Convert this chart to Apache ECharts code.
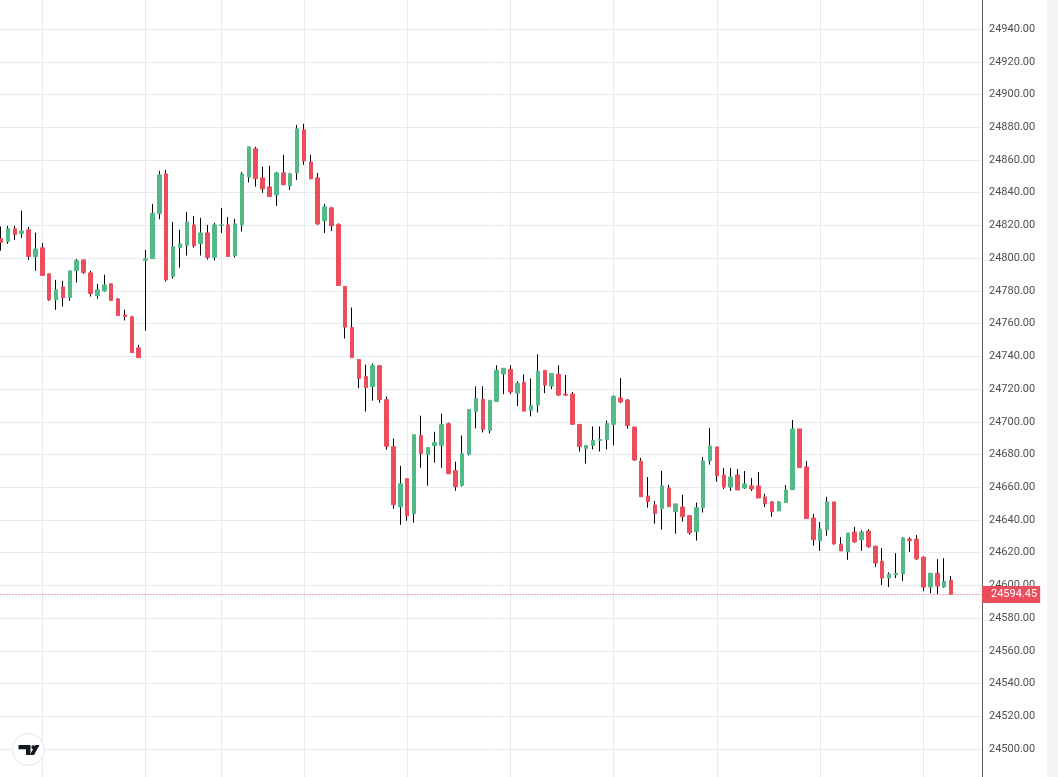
<!DOCTYPE html>
<html><head><meta charset="utf-8">
<script src="https://cdn.jsdelivr.net/npm/echarts@6/dist/echarts.min.js"></script>
<style>html,body{margin:0;padding:0;background:#fff;overflow:hidden}#c{width:1058px;height:777px}</style>
</head><body><div id="c"></div><script>
const opens = [24811.8,24810.1,24817.9,24815.0,24817.3,24801.0,24806.3,24790.4,24774.5,24782.4,
24775.9,24792.4,24798.9,24791.0,24777.1,24780.0,24784.3,24775.1,24765.3,24764.1,
24745.1,24798.7,24799.7,24827.2,24851.5,24788.7,24806.5,24807.7,24820.3,24808.9,
24815.4,24800.4,24819.9,24820.3,24801.6,24820.3,24849.6,24866.8,24849.0,24843.5,
24838.6,24852.1,24844.1,24852.1,24878.4,24858.8,24849.0,24822.8,24830.7,24820.6,
24782.7,24757.6,24738.0,24727.6,24721.5,24734.3,24713.5,24684.8,24648.0,24665.2,
24643.8,24691.5,24679.9,24685.4,24685.4,24698.8,24670.1,24661.0,24680.0,24706.3,
24713.7,24694.7,24712.4,24729.2,24732.0,24717.5,24724.1,24706.9,24710.2,24731.4,
24721.8,24729.0,24716.9,24716.9,24698.4,24683.7,24685.5,24688.6,24689.2,24698.4,
24714.5,24713.3,24696.8,24676.0,24654.6,24649.1,24646.9,24659.5,24645.1,24647.9,
24642.6,24632.9,24647.5,24676.2,24684.6,24667.5,24660.1,24667.5,24659.5,24660.8,
24660.8,24654.0,24651.0,24645.5,24650.6,24658.5,24695.6,24672.4,24641.2,24627.3,
24634.0,24651.0,24625.2,24620.5,24632.6,24627.9,24633.2,24624.0,24614.8,24604.5,
24606.4,24607.0,24628.3,24628.3,24617.2,24599.0,24607.4,24599.0,24603.1];
const closes = [24809.5,24817.9,24814.4,24816.6,24801.0,24805.6,24789.4,24774.5,24780.6,24775.9,
24792.2,24798.5,24791.2,24778.4,24780.6,24783.6,24774.1,24764.9,24764.3,24742.3,
24739.2,24799.5,24827.4,24850.9,24786.7,24806.9,24808.7,24822.1,24807.7,24815.4,
24800.4,24820.3,24820.3,24801.0,24820.9,24851.5,24868.0,24848.6,24842.3,24837.6,
24852.1,24844.8,24851.5,24879.0,24859.4,24848.4,24820.9,24831.3,24819.7,24783.3,
24757.8,24739.2,24726.4,24720.9,24734.3,24713.5,24685.0,24649.3,24662.1,24642.5,
24692.1,24680.5,24684.2,24687.2,24698.2,24668.2,24660.3,24680.6,24707.5,24714.3,
24695.3,24713.1,24731.4,24732.7,24718.2,24723.5,24706.5,24710.0,24730.8,24722.4,
24729.6,24716.3,24716.3,24698.4,24684.9,24685.5,24688.6,24689.2,24699.0,24715.5,
24712.1,24697.6,24676.6,24654.2,24651.2,24643.9,24660.8,24648.1,24649.8,24642.0,
24632.2,24647.5,24676.0,24685.2,24666.9,24660.1,24666.2,24658.3,24662.0,24658.9,
24653.4,24649.8,24645.1,24651.0,24658.3,24695.6,24672.0,24640.8,24628.0,24634.4,
24651.0,24625.4,24621.1,24632.0,24626.6,24632.6,24623.6,24613.7,24604.5,24606.8,
24607.4,24628.9,24627.3,24616.2,24599.0,24607.4,24599.6,24602.5,24594.45];
const lows = [24804.6,24808.7,24811.1,24812.4,24798.9,24792.2,24789.4,24773.9,24768.4,24770.4,
24773.9,24785.1,24790.4,24776.5,24775.1,24779.6,24774.1,24764.9,24761.9,24742.3,
24739.2,24755.7,24799.7,24823.8,24785.7,24787.5,24794.2,24801.6,24806.5,24801.6,
24799.1,24798.5,24815.4,24801.0,24800.4,24816.2,24846.2,24843.7,24839.9,24837.6,
24831.9,24844.8,24841.7,24847.8,24857.0,24848.4,24820.3,24815.4,24816.6,24783.3,
24750.9,24739.2,24720.5,24706.2,24712.9,24711.7,24682.9,24646.8,24637.0,24639.5,
24638.3,24671.9,24660.9,24675.0,24671.9,24668.2,24657.8,24660.4,24679.4,24695.9,
24693.5,24692.9,24712.4,24716.9,24716.9,24709.6,24706.5,24703.3,24705.7,24717.5,
24720.0,24715.7,24715.7,24698.4,24681.8,24674.5,24683.1,24681.8,24683.1,24685.5,
24711.4,24695.8,24676.2,24654.2,24647.5,24637.7,24634.1,24648.1,24631.6,24639.0,
24631.0,24627.4,24644.5,24673.8,24663.4,24658.9,24657.7,24658.3,24658.9,24657.7,
24653.4,24647.9,24642.0,24645.5,24650.6,24658.5,24672.0,24640.8,24624.3,24621.1,
24630.3,24624.8,24621.1,24615.6,24626.0,24621.1,24623.0,24611.3,24600.2,24599.0,
24604.5,24602.7,24620.5,24615.6,24596.5,24595.3,24594.7,24598.4,24594.45];
const highs = [24819.3,24819.7,24819.7,24829.1,24819.1,24815.6,24809.3,24790.4,24786.7,24786.1,
24792.2,24799.5,24798.9,24792.2,24784.3,24789.8,24784.7,24775.5,24768.4,24764.7,
24747.0,24805.0,24833.1,24853.3,24853.9,24822.1,24817.3,24828.3,24825.8,24824.6,
24820.3,24821.5,24830.7,24825.2,24824.0,24852.7,24868.0,24868.0,24855.8,24856.4,
24852.7,24863.1,24852.1,24881.4,24882.0,24863.1,24852.1,24833.1,24831.3,24821.2,
24782.7,24769.8,24738.0,24734.9,24735.6,24734.3,24715.4,24689.7,24673.1,24665.2,
24692.1,24703.7,24684.2,24693.9,24704.9,24699.5,24675.6,24691.6,24707.5,24721.6,
24721.6,24713.1,24734.5,24732.7,24734.5,24724.7,24729.0,24726.5,24741.2,24731.4,
24729.6,24734.5,24728.6,24718.2,24698.4,24685.5,24697.1,24697.1,24700.8,24716.1,
24726.7,24713.9,24696.8,24677.9,24666.2,24651.6,24669.9,24661.4,24649.8,24655.3,
24643.0,24650.6,24678.5,24696.2,24684.6,24671.7,24671.7,24671.1,24669.9,24665.6,
24669.3,24655.9,24651.6,24651.6,24661.4,24701.1,24695.6,24676.0,24643.6,24638.7,
24654.1,24651.0,24629.5,24632.0,24635.7,24633.8,24634.4,24624.0,24622.8,24608.0,
24619.7,24629.5,24629.5,24630.7,24617.8,24607.4,24616.0,24616.6,24605.7];
const categories = opens.map((_, i) => String(i + 1)).concat(['', '', '', '']);
const timeGridIdx = [6, 21, 32, 44, 59, 74, 89, 104, 119, 134];
const yMin = 24480, yMax = 24960, yStep = 20;
const lastPrice = closes[closes.length - 1];

const UP = '#53b987', DOWN = '#eb4d5c', GRID = '#e3ebf3';
const FONT = 'Roboto, "Liberation Sans", sans-serif';

const wickData = opens.map((o, i) => [o, closes[i], lows[i], highs[i]]);
const bodyData = opens.map((o, i) => [o, closes[i], Math.min(o, closes[i]), Math.max(o, closes[i])]);

const chart = echarts.init(document.getElementById('c'), null, {renderer: 'canvas'});
chart.setOption({
  animation: false,
  backgroundColor: '#ffffff',
  grid: {left: -2.445, top: -3.7, width: 984.445, height: 785.45, containLabel: false, outerBoundsMode: 'none'},
  xAxis: {
    type: 'category', data: categories, boundaryGap: true,
    axisLine: {show: false}, axisTick: {show: false}, axisLabel: {show: false}, splitLine: {show: false}
  },
  yAxis: {
    type: 'value', position: 'right', min: yMin, max: yMax, interval: yStep, scale: true,
    axisLine: {show: true, lineStyle: {color: '#5d5d5d', width: 1}},
    axisTick: {show: false},
    splitLine: {show: true, lineStyle: {color: GRID, width: 1}},
    axisLabel: {
      show: true, color: '#4f4f4f', fontSize: 11, fontFamily: FONT, margin: 7,
      showMinLabel: false, showMaxLabel: false,
      formatter: v => v.toFixed(2)
    }
  },
  series: [
    {
      type: 'candlestick', name: 'wick', data: wickData, barWidth: 1, silent: true, z: 2,
      itemStyle: {color: '#000', color0: '#000', borderColor: '#000', borderColor0: '#000', borderWidth: 1},
      markLine: {
        silent: true, symbol: ['none', 'none'], z: 1, animation: false,
        label: {show: false},
        lineStyle: {color: GRID, type: 'solid', width: 1},
        data: timeGridIdx.map(i => ({xAxis: i}))
      }
    },
    {
      type: 'candlestick', name: 'body', data: bodyData, barWidth: 4, silent: true, z: 3,
      itemStyle: {color: UP, color0: DOWN, borderColor: UP, borderColor0: DOWN, borderWidth: 1},
      markLine: {
        silent: true, symbol: ['none', 'none'], z: 6, animation: false,
        lineStyle: {color: DOWN, type: [1, 2], width: 1},
        label: {
          show: true, position: 'end', distance: 0,
          formatter: lastPrice.toFixed(2),
          backgroundColor: DOWN, color: '#fff', fontSize: 11, fontFamily: FONT,
          padding: [3, 3, 3, 9]
        },
        data: [{yAxis: lastPrice}]
      }
    }
  ],
  graphic: [
    {type: 'rect', left: 1047, top: 0, shape: {width: 11, height: 777}, style: {fill: '#f4f4f4'}, z: 0, silent: true},
    {type: 'circle', shape: {cx: 28.5, cy: 749.5, r: 16}, style: {fill: '#fff', stroke: '#e0e3eb', lineWidth: 1}, z: 10, silent: true},
    {type: 'polygon', shape: {points: [[18.5, 745], [30.5, 745], [30.5, 755], [26, 755], [26, 749.3], [18.5, 749.3]]}, style: {fill: '#131722'}, z: 11, silent: true},
    {type: 'circle', shape: {cx: 33.2, cy: 747.2, r: 1.9}, style: {fill: '#131722'}, z: 11, silent: true},
    {type: 'polygon', shape: {points: [[35.3, 745], [39.5, 745], [34, 755], [29.8, 755]]}, style: {fill: '#131722'}, z: 11, silent: true}
  ]
});
</script></body></html>
